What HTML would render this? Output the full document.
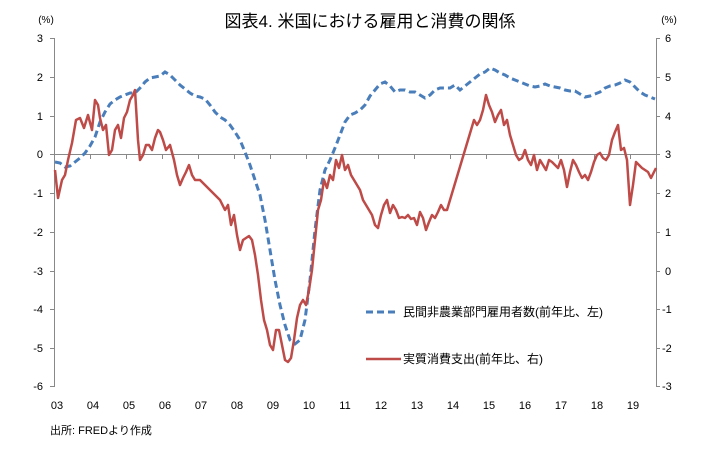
<!DOCTYPE html>
<html><head><meta charset="utf-8"><style>
body{margin:0;background:#fff;}
svg text{font-family:"Liberation Sans","Noto Sans CJK JP",sans-serif;}
</style></head><body>
<svg width="719" height="448" viewBox="0 0 719 448" xmlns="http://www.w3.org/2000/svg">
<rect width="719" height="448" fill="#fff"/>
<text x="370" y="27" font-size="17" text-anchor="middle" fill="#000">図表4. 米国における雇用と消費の関係</text>
<text x="46" y="23" font-size="10" text-anchor="middle">(%)</text>
<text x="669" y="23" font-size="10" text-anchor="middle">(%)</text>
<g stroke="#888" stroke-width="1" fill="none">
<line x1="54.5" y1="38" x2="54.5" y2="387"/>
<line x1="656.5" y1="38" x2="656.5" y2="387"/>
<line x1="54" y1="154.5" x2="656" y2="154.5"/>
<path d="M50 38.5H54M50 77.5H54M50 116.5H54M50 154.5H54M50 193.5H54M50 232.5H54M50 271.5H54M50 309.5H54M50 348.5H54M50 386.5H54"/>
<path d="M656 38.5H660M656 77.5H660M656 116.5H660M656 154.5H660M656 193.5H660M656 232.5H660M656 271.5H660M656 309.5H660M656 348.5H660M656 386.5H660"/>
<path d="M90.5 154V159M126.5 154V159M162.5 154V159M198.5 154V159M234.5 154V159M270.5 154V159M306.5 154V159M342.5 154V159M378.5 154V159M414.5 154V159M450.5 154V159M486.5 154V159M522.5 154V159M558.5 154V159M594.5 154V159M630.5 154V159"/>
</g>
<g font-size="11" text-anchor="end" fill="#000">
<text x="43" y="42">3</text><text x="43" y="81">2</text><text x="43" y="120">1</text><text x="43" y="158">0</text><text x="43" y="197">-1</text><text x="43" y="236">-2</text><text x="43" y="275">-3</text><text x="43" y="313">-4</text><text x="43" y="352">-5</text><text x="43" y="390">-6</text>
</g>
<g font-size="11" text-anchor="start" fill="#000">
<text x="665" y="42">6</text><text x="665" y="81">5</text><text x="665" y="120">4</text><text x="665" y="158">3</text><text x="665" y="197">2</text><text x="665" y="236">1</text><text x="665" y="275">0</text><text x="662" y="313">-1</text><text x="662" y="352">-2</text><text x="662" y="390">-3</text>
</g>
<g font-size="11" text-anchor="middle" fill="#000">
<text x="57" y="409">03</text><text x="93" y="409">04</text><text x="129" y="409">05</text><text x="165" y="409">06</text><text x="201" y="409">07</text><text x="237" y="409">08</text><text x="273" y="409">09</text><text x="309" y="409">10</text><text x="345" y="409">11</text><text x="381" y="409">12</text><text x="417" y="409">13</text><text x="453" y="409">14</text><text x="489" y="409">15</text><text x="525" y="409">16</text><text x="561" y="409">17</text><text x="597" y="409">18</text><text x="633" y="409">19</text>
</g>
<text x="50" y="434" font-size="11">出所: FREDより作成</text>
<polyline fill="none" stroke="#4a7ebb" stroke-width="3" stroke-dasharray="7,4" points="55,162 60,163 65,167 70,166 75,162 80,158 85,153 90,146 95,137 100,122 105,112 110,104 115,100 120,97 125,95 130,93 135,93 140,88 145,82 150,78 155,77 160,76 165,72 170,75 175,80 180,85 185,89 190,93 195,96 200,97 205,99 210,105 215,112 220,117 225,120 230,125 235,132 240,140 245,152 250,165 255,180 260,195 265,220 270,250 275,280 280,305 285,325 290,340 295,344 300,340 305,320 310,280 315,230 320,190 325,170 330,160 335,148 340,135 345,122 350,115 355,113 360,110 365,105 370,96 375,90 380,84 385,82 390,86 395,92 400,90 405,90 410,92 415,92 420,95 425,98 430,95 435,90 440,88 445,88 450,88 455,85 460,90 465,86 470,82 475,78 480,74 485,72 490,68 495,70 500,73 505,75 510,78 515,80 520,82 525,84 530,86 535,87 540,86 545,84 550,86 555,87 560,88 565,90 570,91 575,91 580,94 585,97 590,96 595,94 600,92 605,88 610,86 615,85 620,83 625,80 630,82 635,87 640,92 645,95 650,97 655,99"/>
<polyline fill="none" stroke="#be4b48" stroke-width="2.5" stroke-linejoin="round" points="55,170 58,198 62,180 65,175 68,160 72,143 76,120 80,118 84,128 88,115 92,130 95,100 98,105 100,118 103,130 106,125 109,155 112,150 115,130 118,125 121,138 124,118 127,112 130,100 133,95 135,90 138,140 140,160 143,155 146,145 149,145 152,150 155,138 158,130 160,132 163,140 166,150 170,145 174,160 177,175 180,185 183,178 186,172 189,165 192,175 195,180 200,180 205,185 210,190 215,195 220,200 225,210 228,205 231,225 234,215 237,235 240,250 243,240 246,238 249,236 252,240 255,255 258,275 261,300 264,320 267,330 270,345 273,350 276,330 279,330 282,345 285,360 288,362 291,358 294,340 297,318 300,305 303,300 306,305 309,290 312,270 315,240 318,210 321,200 324,180 327,188 330,175 333,180 336,160 339,168 342,155 345,170 348,165 351,175 354,180 357,185 360,190 363,200 366,205 369,210 372,215 375,225 378,228 381,215 384,205 387,200 390,213 393,205 396,210 399,218 402,217 405,218 408,215 411,219 414,218 417,225 420,212 423,218 426,230 429,222 432,215 435,218 438,212 441,205 444,210 447,210 450,200 453,190 456,180 459,170 462,160 465,150 468,140 471,130 474,120 477,125 480,120 483,110 486,95 489,105 492,112 495,122 498,115 501,110 504,125 507,120 510,135 513,145 516,155 519,160 522,158 525,150 528,160 531,165 534,155 537,170 540,160 543,165 546,170 549,160 552,162 555,165 558,168 561,160 564,170 567,187 570,172 573,160 576,165 579,172 582,178 585,175 588,180 591,172 594,162 597,155 600,153 603,158 606,160 609,155 612,140 615,132 618,125 621,150 624,148 627,160 630,205 633,185 636,162 639,165 642,168 645,170 648,172 651,178 654,172 656,168"/>
<line x1="366" y1="312" x2="399" y2="312" stroke="#4a7ebb" stroke-width="3" stroke-dasharray="7,4"/>
<text x="403" y="316" font-size="12">民間非農業部門雇用者数(前年比、左)</text>
<line x1="366" y1="359" x2="401" y2="359" stroke="#be4b48" stroke-width="2.5"/>
<text x="403" y="363" font-size="12">実質消費支出(前年比、右)</text>
</svg>
</body></html>
